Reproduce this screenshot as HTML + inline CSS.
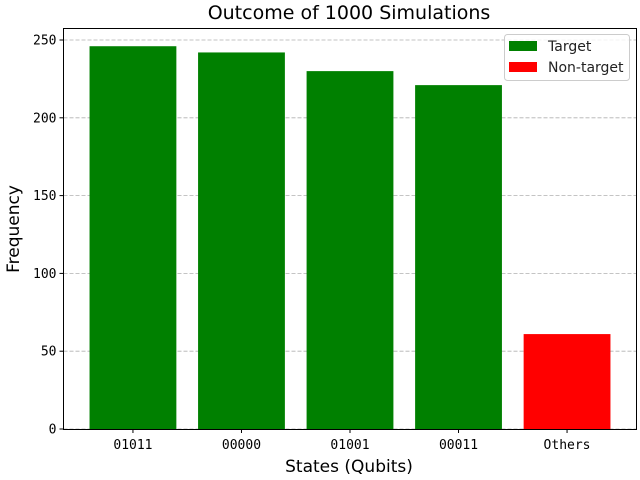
<!DOCTYPE html>
<html><head><meta charset="utf-8"><style>
body{margin:0;background:#fff;}
svg{display:block;font-family:"DejaVu Sans","Liberation Sans",sans-serif;}
.mono{font-family:"DejaVu Sans Mono","Liberation Mono",monospace;}
</style></head><body>
<svg id="chart" width="640" height="480" xmlns="http://www.w3.org/2000/svg">
<g id="grid"></g>
<g id="bars"></g>
<rect x="63.5" y="28.5" width="573" height="401" fill="none" stroke="#000" stroke-width="1"/>
<g id="yticks"></g>
<g id="xticks"></g>
<text x="349" y="19" font-size="19" text-anchor="middle">Outcome of 1000 Simulations</text>
<text x="349" y="472" font-size="17" text-anchor="middle">States (Qubits)</text>
<text transform="translate(19,229) rotate(-90)" font-size="17" text-anchor="middle">Frequency</text>
<g>
<rect x="504.5" y="34.5" width="125" height="46" rx="3" fill="#fff" fill-opacity="0.8" stroke="#ccc"/>
<rect x="509" y="41" width="28" height="10" fill="green"/>
<text x="548" y="51" font-size="14" fill="#222">Target</text>
<rect x="509" y="62" width="28" height="10" fill="red"/>
<text x="548" y="72" font-size="14" fill="#222">Non-target</text>
</g>
</svg>
<script>
const categories=["01011","00000","01001","00011","Others"];
const values=[246,242,230,221,61];
const colors=["green","green","green","green","red"];
const yTicks=[0,50,100,150,200,250];
const NS="http://www.w3.org/2000/svg";
const L=63.5,R=636.5,B=429,T=28;
const xmin=-0.64,xmax=categories.length-1+0.64;
const x=i=>L+(i-xmin)/(xmax-xmin)*(R-L);
const y=v=>B-v*(429-40)/250;
const mk=(t,a,p)=>{const e=document.createElementNS(NS,t);for(const k in a)e.setAttribute(k,a[k]);p.appendChild(e);return e;};
const grid=document.getElementById('grid'),bars=document.getElementById('bars'),yt=document.getElementById('yticks'),xt=document.getElementById('xticks');
yTicks.forEach(v=>{
 const gl=mk('line',{x1:L,x2:R,y1:y(v),y2:y(v),stroke:'#b0b0b0','stroke-dasharray':'4,2','stroke-width':0.8},grid);
 
 
 const tk=mk('line',{x1:L-4,x2:L,y1:y(v),y2:y(v),stroke:'#000'},yt);
 
 
 const tx=mk('text',{x:L-7,y:y(v)+4.5,'font-size':13,'text-anchor':'end','class':'mono'},yt);
 
 
 tx.textContent=v;
});
const bw=0.8*(R-L)/(xmax-xmin);
categories.forEach((c,i)=>{
 const r=mk('rect',{x:x(i)-bw/2,y:y(values[i]),width:bw,height:B-y(values[i]),fill:colors[i]},bars);
 
 
 const tk=mk('line',{x1:x(i),x2:x(i),y1:B,y2:B+4,stroke:'#000'},xt);
 
 
 const tx=mk('text',{x:x(i),y:B+20,'font-size':13,'text-anchor':'middle','class':'mono'},xt);
 
 
 tx.textContent=c;
});
</script>
</body></html>
